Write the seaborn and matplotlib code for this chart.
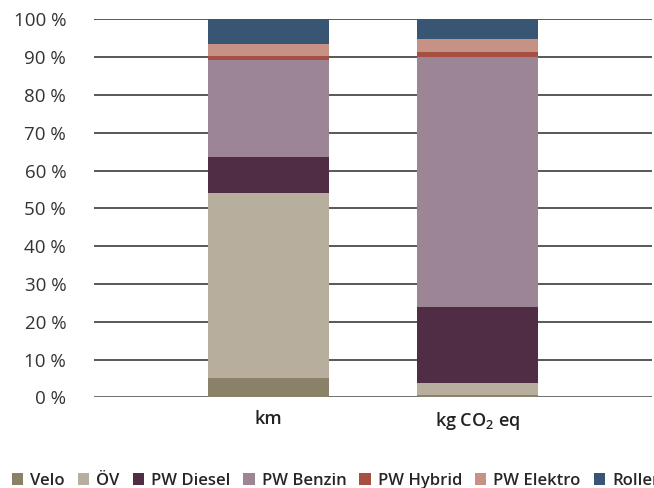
import numpy as np
import pandas as pd
import matplotlib.pyplot as plt
import seaborn as sns
from matplotlib.patches import Patch

# values in percent
categories = ['km', 'kg CO$_\\mathregular{2}$ eq']
modes = ['Velo', 'ÖV', 'PW Diesel', 'PW Benzin', 'PW Hybrid', 'PW Elektro', 'Roller']
velo = [5.2, 0.7]
oev = [48.8, 3.1]
pw_diesel = [9.5, 20.1]
pw_benzin = [25.8, 66.1]
pw_hybrid = [1.1, 1.4]
pw_elektro = [3.1, 3.4]
roller = [6.5, 5.2]
colors = ['#8b8068', '#b7ae9e', '#512d45', '#9c8595', '#a84f44', '#c69285', '#385673']

sns.set_style('white')
plt.rcParams['font.family'] = ['Open Sans', 'DejaVu Sans']
plt.rcParams['mathtext.fontset'] = 'custom'
plt.rcParams['mathtext.rm'] = 'Open Sans:semibold'

df = pd.DataFrame({'cat': categories, 'Velo': velo, 'ÖV': oev, 'PW Diesel': pw_diesel,
                   'PW Benzin': pw_benzin, 'PW Hybrid': pw_hybrid,
                   'PW Elektro': pw_elektro, 'Roller': roller})
cum = df[modes].cumsum(axis=1)

fig = plt.figure(figsize=(6.54, 4.88), dpi=100)
ax = fig.add_axes([0.1437, 0.1855, 0.853, 0.775])

# stacked bars: draw cumulative totals from the top layer down
for mode, col in reversed(list(zip(modes, colors))):
    sns.barplot(x=df['cat'], y=cum[mode], color=col, width=0.579,
                saturation=1, linewidth=0, ax=ax, zorder=2)

ax.set_xlim(-0.835, 1.835)
ax.set_ylim(0, 100)
ax.set_yticks(np.arange(0, 101, 10))
ax.set_yticklabels([f'{v} %' for v in range(0, 101, 10)])
ax.yaxis.grid(True, color='#2b2b2b', linewidth=1.1, zorder=0)
ax.set_axisbelow(True)
for s in ax.spines.values():
    s.set_visible(False)
ax.axhline(0, color='#777777', linewidth=1.2, zorder=1)
ax.tick_params(axis='y', length=0, pad=20, labelsize=13.5, labelcolor='#333333')
ax.tick_params(axis='x', length=0, pad=9, labelsize=13, labelcolor='#222222')
for t in ax.get_xticklabels():
    t.set_fontweight('semibold')
ax.set_xlabel('')
ax.set_ylabel('')

handles = [Patch(facecolor=c, edgecolor='none') for c in colors]
fig.legend(handles, modes, loc='lower left', bbox_to_anchor=(0.003, -0.022), ncol=7,
           frameon=False, handlelength=0.68, handleheight=0.68,
           handletextpad=0.42, columnspacing=0.78, borderaxespad=0.2,
           prop={'weight': 'semibold', 'size': 12})

fig.savefig('out.png', dpi=100)
